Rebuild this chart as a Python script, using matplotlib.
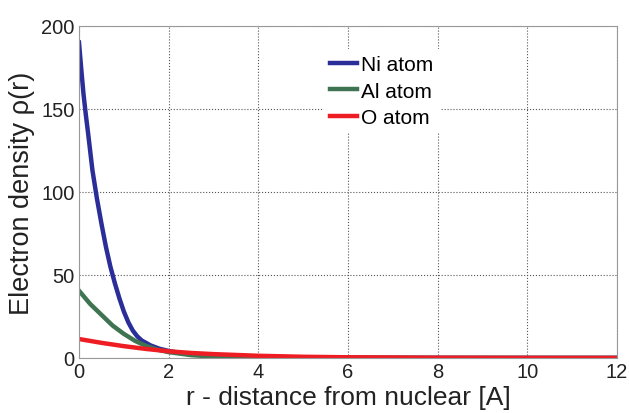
import numpy as np
import matplotlib
matplotlib.use("Agg")
from matplotlib import pyplot as plt

plt.rcParams['font.family'] = ['Liberation Sans', 'DejaVu Sans']

# Ni atom
r_ni = [0, 0.05, 0.1, 0.15, 0.2, 0.3, 0.4, 0.5, 0.6, 0.7, 0.8, 0.9, 1.0, 1.1, 1.2,
        1.3, 1.4, 1.6, 1.8, 2.0, 2.25, 2.5, 3, 4, 5, 6, 8, 10, 12]
ni = [190, 174, 159, 147, 136, 113, 96, 81, 67, 55, 45, 36, 28, 21.5, 16.5,
      13, 10.5, 7.5, 5.5, 4.2, 3, 2.2, 1.3, 0.6, 0.3, 0.15, 0.05, 0.02, 0.01]
# Al atom
r_al = [0, 0.25, 0.5, 0.75, 1.0, 1.25, 1.5, 1.75, 2.0, 2.5, 3, 4, 5, 6, 8, 10, 12]
al = [40.5, 32.5, 26, 19.5, 14.5, 10.3, 7.2, 5, 3.5, 1.7, 0.8, 0.2, 0.05, 0.02,
      0, 0, 0]
# O atom
r_o = [0, 0.5, 1.0, 1.5, 2.0, 2.5, 3, 4, 5, 6, 8, 10, 12]
o = [11.4, 9.1, 7.1, 5.4, 4.0, 3.0, 2.3, 1.3, 0.7, 0.4, 0.12, 0.04, 0.01]

fig = plt.figure(figsize=(6.29, 4.14), dpi=100)
ax = fig.add_axes([0.1256, 0.133, 0.855, 0.802])

ax.plot(r_ni, ni, color='#2B2E98', lw=3.2, label='Ni atom', solid_joinstyle='round')
ax.plot(r_al, al, color='#3F7452', lw=3.2, label='Al atom', solid_joinstyle='round')
ax.plot(r_o, o, color='#EE1D24', lw=3.2, label='O atom', solid_joinstyle='round')

ax.set_xlim(0, 12)
ax.set_ylim(0, 200)
ax.set_xticks([0, 2, 4, 6, 8, 10, 12])
ax.set_yticks([0, 50, 100, 150, 200])
ax.grid(True, ls=':', color='#555555', lw=0.8)
for s in ax.spines.values():
    s.set_color('#999999')
ax.tick_params(length=0, labelsize=14.5, colors='#222222', pad=3)

ax.set_xlabel('r - distance from nuclear [A]', fontsize=19, labelpad=3,
              color='#222222')
ax.set_ylabel('Electron density ρ(r)', fontsize=19.5, labelpad=5,
              color='#222222')

leg = ax.legend(loc='upper left', bbox_to_anchor=(0.455, 0.93), frameon=True,
                fontsize=15, handlelength=1.3, handletextpad=0.2,
                labelspacing=0.35, borderpad=0.3, borderaxespad=0)
leg.get_frame().set_edgecolor('none')
leg.get_frame().set_alpha(1)
leg.get_frame().set_boxstyle('square', pad=0)

fig.savefig('out.png', dpi=100)
